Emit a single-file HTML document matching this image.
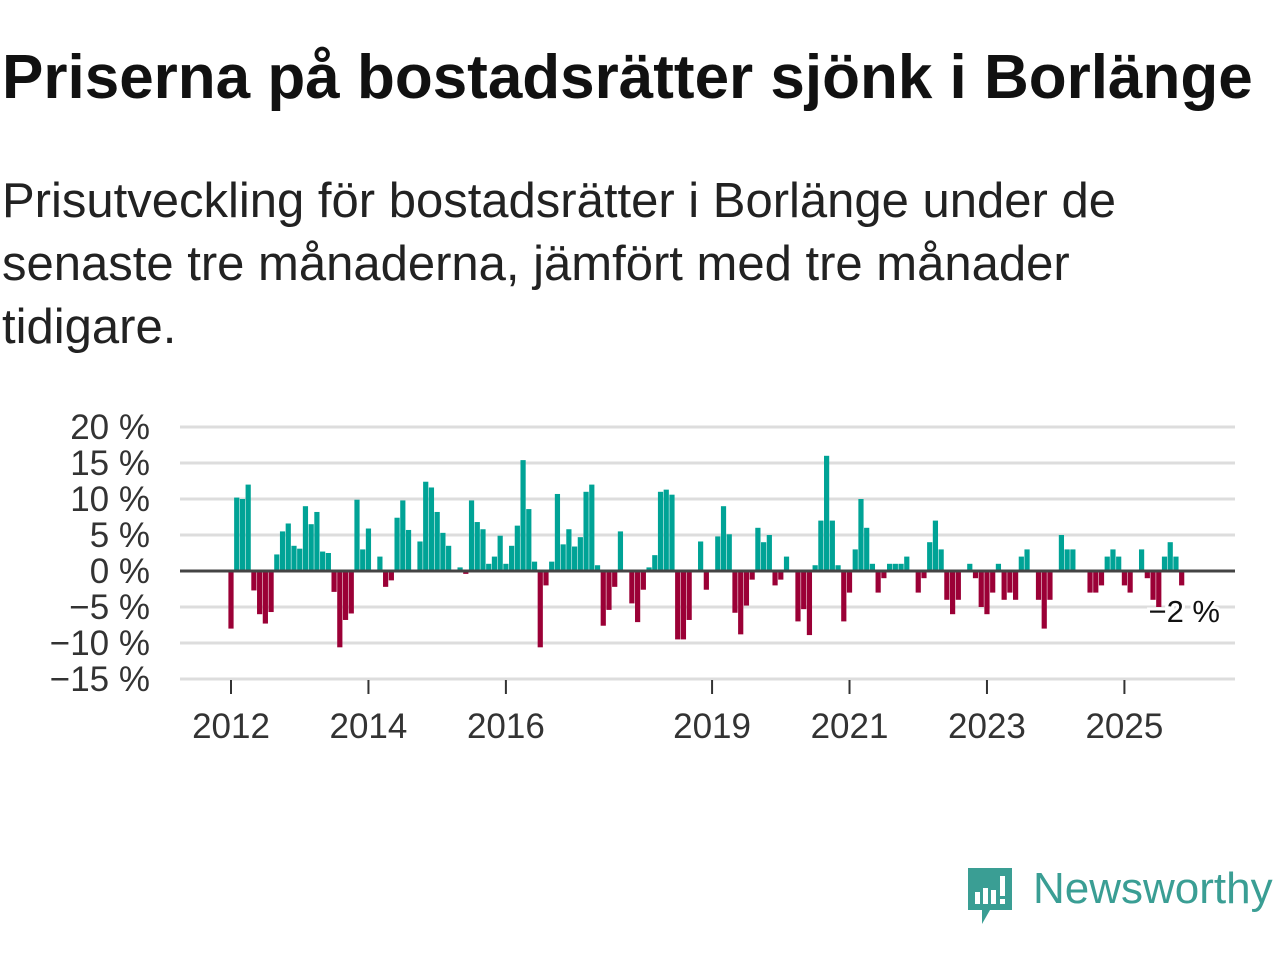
<!DOCTYPE html>
<html><head><meta charset="utf-8"><style>
body{margin:0;width:1280px;height:960px;background:#fff;font-family:"Liberation Sans",sans-serif;overflow:hidden;position:relative}
h1{position:absolute;left:2px;top:42px;margin:0;font-size:62px;font-weight:bold;color:#111;white-space:nowrap}
.sub{position:absolute;left:2px;top:170px;margin:0;font-size:49px;line-height:63px;color:#222;width:1170px}
svg{position:absolute;left:0;top:0}
</style></head><body>
<h1>Priserna på bostadsrätter sjönk i Borlänge</h1>
<p class="sub">Prisutveckling för bostadsrätter i Borlänge under de senaste tre månaderna, jämfört med tre månader tidigare.</p>
<svg id="chart" width="1280" height="960"></svg>
<div style="position:absolute;left:965px;top:866px;width:320px;height:60px">
<svg width="50" height="60" style="position:absolute;left:0;top:0"><path d="M3 2h44v42h-22l-8 14v-14h-14z" fill="#3a9e94"/><rect x="10" y="26" width="5" height="12" fill="#fff"/><rect x="18" y="22" width="5" height="16" fill="#fff"/><rect x="26" y="24" width="5" height="14" fill="#fff"/><rect x="35" y="10" width="5" height="20" fill="#fff"/><rect x="35" y="33" width="5" height="5" fill="#fff"/></svg>
<span style="position:absolute;left:68px;top:-2px;font-size:44px;color:#3a9e94">Newsworthy</span>
</div>
<script>
const values=[-8,10.2,10,12,-2.7,-6,-7.3,-5.7,2.3,5.5,6.6,3.5,3.1,9,6.5,8.2,2.7,2.5,-2.9,-10.6,-6.8,-5.9,9.9,3,5.9,0,2,-2.2,-1.3,7.4,9.8,5.7,0,4.1,12.4,11.6,8.2,5.3,3.5,0,0.5,-0.4,9.8,6.8,5.8,1,2,4.9,1,3.5,6.3,15.4,8.6,1.3,-10.6,-2,1.3,10.7,3.7,5.8,3.4,4.7,11,12,0.8,-7.6,-5.4,-2.2,5.5,0,-4.5,-7.1,-2.6,0.5,2.2,11,11.3,10.6,-9.5,-9.5,-6.8,0,4.1,-2.6,0.2,4.8,9,5.1,-5.8,-8.8,-4.8,-1.2,6,4,5,-2,-1.2,2,0,-7,-5.3,-8.9,0.8,7,16,7,0.8,-7,-3,3,10,6,1,-3,-1,1,1,1,2,0,-3,-1,4,7,3,-4,-6,-4,0,1,-1,-5,-6,-3,1,-4,-3,-4,2,3,0,-4,-8,-4,0,5,3,3,0,0,-3,-3,-2,2,3,2,-2,-3,0,3,-1,-4,-5,2,4,2,-2];
const yTicks=[20,15,10,5,0,-5,-10,-15];
const xYears=[2012,2014,2016,2019,2021,2023,2025];
const lastLabel="−2 %";
const svg=document.getElementById('chart');const NS='http://www.w3.org/2000/svg';
const y=v=>571-v*7.2;
const x=i=>231+i*5.727;
function mk(t,a){const e=document.createElementNS(NS,t);for(const k in a)e.setAttribute(k,a[k]);svg.appendChild(e);return e;}
yTicks.forEach(t=>{
 if(t!==0){const l=mk('line',{x1:180,x2:1235,y1:y(t),y2:y(t),stroke:'#ddd','stroke-width':3});
 
 }
 const tx=mk('text',{x:150,y:y(t)+12,'text-anchor':'end','font-size':35,fill:'#333','font-family':'Liberation Sans, sans-serif'});
 tx.textContent=(t<0?'−'+(-t):t)+' %';
 
 
});
values.forEach((v,i)=>{
 const r=mk('rect',{x:x(i)-2.6,width:5.2,y:Math.min(y(v),571),height:Math.abs(y(v)-571),fill:v>=0?'#00a396':'#9b0036'});
 
 
});
const z=mk('line',{x1:180,x2:1235,y1:571,y2:571,stroke:'#444','stroke-width':3});


xYears.forEach(yr=>{
 const px=x((yr-2012)*12);
 const t=mk('line',{x1:px,x2:px,y1:680,y2:694,stroke:'#333','stroke-width':2});
 
 
 const tx=mk('text',{x:px,y:738,'text-anchor':'middle','font-size':35,fill:'#333','font-family':'Liberation Sans, sans-serif'});
 tx.textContent=yr;
 
 
});
const lb=mk('text',{x:1220,y:622,'text-anchor':'end','font-size':31,fill:'#111',stroke:'#fff','stroke-width':6,'paint-order':'stroke','font-family':'Liberation Sans, sans-serif'});
lb.textContent=lastLabel;


</script>
</body></html>
